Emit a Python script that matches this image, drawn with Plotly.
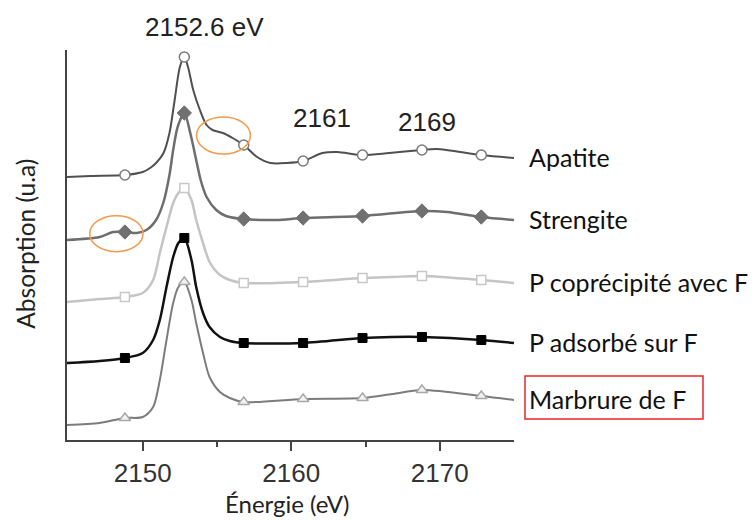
import plotly.graph_objects as go

# ---------------- data (absorption, arbitrary units, stacked with offsets) ----------------
energy_apatite = [2144.9, 2146.5, 2148.8, 2150.0, 2150.5, 2150.9, 2151.4, 2151.8, 2152.15, 2152.5,
                  2152.8, 2153.05, 2153.4, 2153.85, 2154.3, 2154.7, 2155.4, 2156.05, 2156.8,
                  2157.7, 2158.6, 2159.7, 2160.8, 2162.1, 2163.1, 2164.8, 2166.6, 2168.8,
                  2169.8, 2172.8, 2175.0]
abs_apatite = [263, 264, 265, 268, 272, 277, 287, 307, 340, 373,
               383, 373, 350, 330, 315, 310, 307, 302, 295,
               283, 277, 277, 279, 287, 288, 285, 287, 290,
               291, 285, 282]

energy_strengite = [2144.9, 2147.1, 2148.0, 2148.8, 2149.6, 2150.25, 2150.9, 2151.4, 2151.8,
                    2152.05, 2152.35, 2152.8, 2153.2, 2153.6, 2153.9, 2154.3, 2154.95, 2155.6,
                    2156.8, 2159.0, 2160.8, 2164.8, 2168.8, 2170.5, 2172.8, 2175.0]
abs_strengite = [200, 203, 208, 208, 207, 210, 220, 238, 265,
                 290, 313, 327, 307, 280, 260, 243, 230, 224,
                 221, 220, 222, 224, 229, 228, 223, 220]

energy_common = [2144.9, 2147.1, 2148.8, 2150.0, 2150.7, 2151.15, 2151.6, 2152.05, 2152.4, 2152.8,
                 2153.28, 2153.6, 2154.06, 2154.5, 2155.2, 2155.86, 2156.8, 2160.8, 2164.8,
                 2166.8, 2168.8, 2172.8, 2175.0]
abs_coprecipite = [138, 141, 143, 147, 160, 187, 213, 237, 247, 252,
                   240, 220, 197, 178, 165, 160, 157, 158, 162,
                   163, 164, 160, 157]
abs_adsorbe = [77, 79, 82, 87, 100, 120, 153, 183, 197, 202,
               180, 153, 127, 113, 103, 99, 97, 97, 102,
               103, 103, 100, 97]
abs_marbrure = [15, 17, 22, 23, 33, 60, 100, 137, 153, 158,
                140, 117, 87, 63, 48, 42, 38, 41, 42,
                46, 50, 44, 40]

marker_energies = [2148.8, 2152.8, 2156.8, 2160.8, 2164.8, 2168.8, 2172.8]

series_names = ["Apatite", "Strengite", "P coprécipité avec F", "P adsorbé sur F", "Marbrure de F"]

peak_labels = ["2152.6 eV", "2161", "2169"]
peak_label_x = [2154.17, 2162.1, 2169.15]
peak_label_y = [413, 322, 318]

x_tickvals = [2150, 2160, 2170]
x_minor_tickvals = [2155, 2165]

X_RANGE = [2144.9, 2175.0]
Y_RANGE = [0, 390]


def xp(e):
    return (e - X_RANGE[0]) / (X_RANGE[1] - X_RANGE[0])


def yp(a):
    return (a - Y_RANGE[0]) / (Y_RANGE[1] - Y_RANGE[0])


# ---------------- styles ----------------
styles = [
    dict(line=dict(color="#505050", width=2), symbol="circle", msize=10,
         mfill="white", mline=dict(color="#7a7a7a", width=1.5)),
    dict(line=dict(color="#6e6e6e", width=2.5), symbol="diamond", msize=11,
         mfill="#707070", mline=dict(color="#707070", width=1)),
    dict(line=dict(color="#c4c4c4", width=2.5), symbol="square", msize=9,
         mfill="white", mline=dict(color="#c8c8c8", width=1.5)),
    dict(line=dict(color="#111111", width=2.5), symbol="square", msize=9,
         mfill="#000000", mline=dict(color="#000000", width=1)),
    dict(line=dict(color="#7c7c7c", width=2), symbol="triangle-up", msize=10,
         mfill="#f2f2f2", mline=dict(color="#a8a8a8", width=1.5)),
]

series_data = [
    (energy_apatite, abs_apatite),
    (energy_strengite, abs_strengite),
    (energy_common, abs_coprecipite),
    (energy_common, abs_adsorbe),
    (energy_common, abs_marbrure),
]

fig = go.Figure()
for name, (ex, ay), st in zip(series_names, series_data, styles):
    fig.add_trace(go.Scatter(x=ex, y=ay, mode="lines", name=name,
                             line=dict(shape="spline", smoothing=0.8, **st["line"]),
                             hoverinfo="skip"))
    lookup = dict(zip(ex, ay))
    my = [lookup[e] for e in marker_energies]
    fig.add_trace(go.Scatter(x=marker_energies, y=my, mode="markers", name=name,
                             marker=dict(symbol=st["symbol"], size=st["msize"],
                                         color=st["mfill"], line=st["mline"]),
                             hoverinfo="skip", cliponaxis=False))

label_font = "Lato, 'Open Sans', sans-serif"
num_font = "'Liberation Sans', Arial, sans-serif"

annotations = []
# series labels at the right end of each curve
for name, (ex, ay) in zip(series_names, series_data):
    annotations.append(dict(x=xp(2175.9), y=yp(ay[-1] + 1), xref="paper", yref="paper", text=name,
                            showarrow=False, xanchor="left", yanchor="middle",
                            font=dict(family=label_font, size=25, color="#111")))
# peak energy labels
for t, px, py in zip(peak_labels, peak_label_x, peak_label_y):
    annotations.append(dict(x=xp(px), y=yp(py), xref="paper", yref="paper", text=t, showarrow=False,
                            xanchor="center", yanchor="middle",
                            font=dict(family=num_font, size=26, color="#222")))
# axis titles
annotations.append(dict(x=0.492, y=-0.162, xref="paper", yref="paper", text="Énergie (eV)",
                        showarrow=False, xanchor="center", yanchor="middle",
                        font=dict(family=label_font, size=24, color="#222")))
annotations.append(dict(x=-0.092, y=0.503, xref="paper", yref="paper", text="Absorption (u.a)",
                        showarrow=False, xanchor="center", yanchor="middle", textangle=-90,
                        font=dict(family=label_font, size=24.5, color="#222")))

shapes = [
    # orange ellipses highlighting features
    dict(type="circle", xref="x", yref="y", x0=2153.62, x1=2157.25, y0=286, y1=323,
         line=dict(color="#f39a4c", width=1.5)),
    dict(type="circle", xref="x", yref="y", x0=2146.43, x1=2150.02, y0=188.3, y1=224.3,
         line=dict(color="#f39a4c", width=1.5)),
    # red box around "Marbrure de F"
    dict(type="rect", xref="paper", yref="paper", x0=(525 - 67) / 447, x1=(703 - 67) / 447,
         y0=(440 - 419) / 390, y1=(440 - 376) / 390, line=dict(color="#e8262a", width=1.5)),
]

fig.update_layout(
    width=755, height=520,
    margin=dict(l=67, r=241, t=50, b=80),
    paper_bgcolor="white", plot_bgcolor="white",
    showlegend=False, hovermode=False,
    annotations=annotations, shapes=shapes,
    xaxis=dict(range=X_RANGE, showgrid=False, zeroline=False,
               showline=True, linecolor="#444", linewidth=2,
               ticks="outside", ticklen=9, tickwidth=2, tickcolor="#444",
               tickvals=x_tickvals, ticktext=[str(v) for v in x_tickvals],
               tickfont=dict(family=num_font, size=26, color="#333"),
               minor=dict(ticks="outside", ticklen=5, tickwidth=2, tickcolor="#444",
                          tickvals=x_minor_tickvals, showgrid=False)),
    yaxis=dict(range=Y_RANGE, showgrid=False, zeroline=False, showticklabels=False,
               showline=True, linecolor="#444", linewidth=2, ticks=""),
)

fig.write_html("out.html", config={"displayModeBar": False},
               post_script="document.body.style.margin='0';document.body.style.padding='0';")
